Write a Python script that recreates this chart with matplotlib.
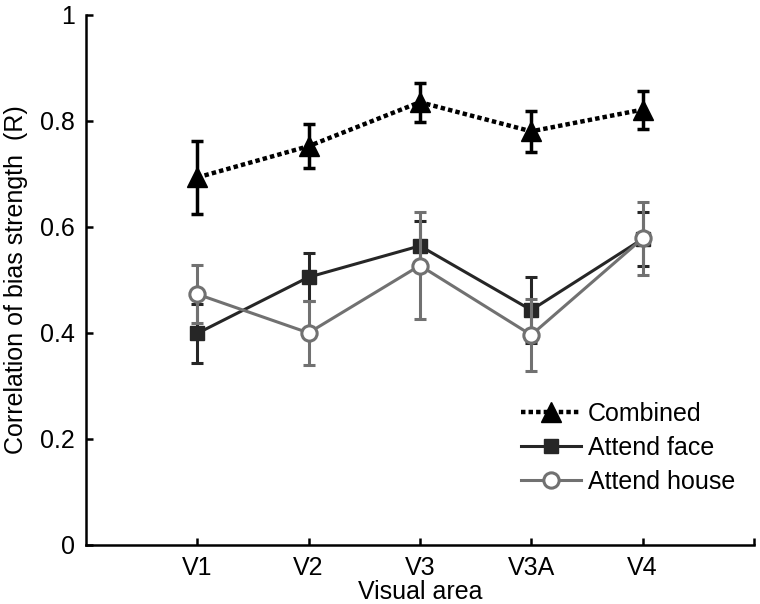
import numpy as np
import matplotlib
matplotlib.use("Agg")
import matplotlib.pyplot as plt
from matplotlib.lines import Line2D

plt.rcParams['font.family'] = ['Liberation Sans', 'DejaVu Sans']
plt.rcParams['font.size'] = 18

# visual areas on the x axis
areas = ['V1', 'V2', 'V3', 'V3A', 'V4']

# correlation of bias strength (R)
combined = [0.693, 0.752, 0.835, 0.780, 0.821]
combined_err = [0.068, 0.042, 0.037, 0.039, 0.036]

attend_face = [0.399, 0.505, 0.564, 0.443, 0.577]
attend_face_err = [0.055, 0.045, 0.047, 0.062, 0.051]

attend_house = [0.473, 0.400, 0.527, 0.396, 0.578]
attend_house_err = [0.055, 0.061, 0.100, 0.067, 0.069]

x = np.arange(1, len(areas) + 1)

fig = plt.figure(figsize=(7.6, 6.04), dpi=100)
ax = fig.add_axes([0.113, 0.0977, 0.879, 0.878])

face_col = '#262626'
house_col = '#717171'
dots = (0, (1, 0.7))

# attend house (grey, open circles)
ax.errorbar(x, attend_house, yerr=attend_house_err, color=house_col, lw=2.2,
            elinewidth=2.2, capsize=4, capthick=2.2, marker='o', ms=11,
            mfc='white', mec=house_col, mew=2.2, zorder=3)
# attend face (dark, filled squares)
ax.errorbar(x, attend_face, yerr=attend_face_err, color=face_col, lw=2.2,
            elinewidth=2.2, capsize=4, capthick=2.2, marker='s', ms=10.5,
            mfc=face_col, mec=face_col, zorder=2)
# combined (black dotted, triangles)
ax.errorbar(x, combined, yerr=combined_err, color='black', lw=3.2,
            ls=dots, elinewidth=2.5, capsize=4, capthick=2.5,
            marker='^', ms=14, mfc='black', mec='black', zorder=4)

ax.set_xlim(0, 6)
ax.set_ylim(0, 1)
ax.set_xticks(list(x) + [6])
ax.set_xticklabels(areas + [''])
ax.set_yticks([0, 0.2, 0.4, 0.6, 0.8, 1])
ax.set_yticklabels(['0', '0.2', '0.4', '0.6', '0.8', '1'])
ax.tick_params(direction='in', length=5, width=1.8, pad=8)

for side in ['top', 'right']:
    ax.spines[side].set_visible(False)
for side in ['left', 'bottom']:
    ax.spines[side].set_linewidth(1.8)

ax.set_xlabel('Visual area', labelpad=0)
ax.set_ylabel('Correlation of bias strength  (R)')
ax.yaxis.set_label_coords(-0.086, 0.5)

# legend shows line + marker only, no error bars
handles = [
    Line2D([], [], color='black', lw=3.2, ls=dots, marker='^', ms=14),
    Line2D([], [], color=face_col, lw=2.2, marker='s', ms=10.5),
    Line2D([], [], color=house_col, lw=2.2, marker='o', ms=11,
           mfc='white', mec=house_col, mew=2.2),
]
ax.legend(handles, ['Combined', 'Attend face', 'Attend house'],
          frameon=False, loc='upper left', bbox_to_anchor=(0.652, 0.27),
          handlelength=2.4, handletextpad=0.25, labelspacing=0.4,
          borderpad=0, borderaxespad=0)

fig.savefig('out.png', dpi=100)
